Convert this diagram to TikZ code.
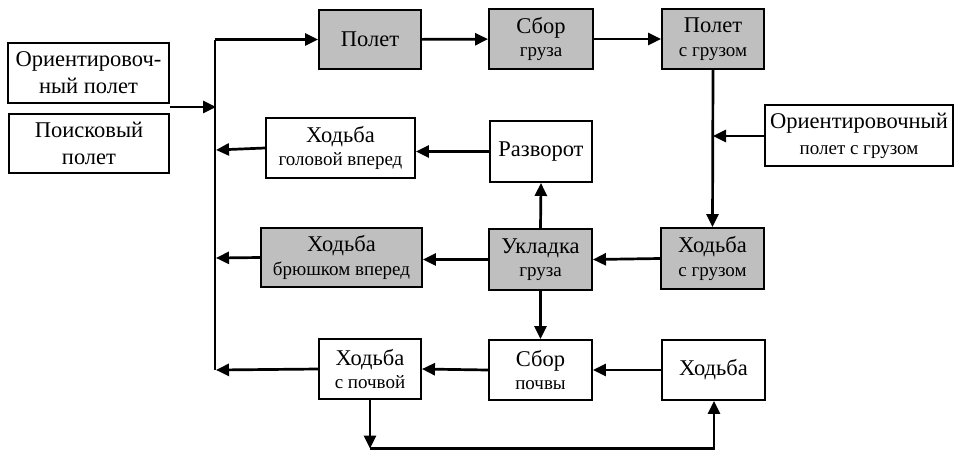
\documentclass[tikz,border=0pt]{standalone}
\usepackage{fontspec}
\setmainfont{Liberation Serif}
\usetikzlibrary{arrows.meta}
\newcommand\sm{\fontsize{19}{21}\selectfont}
\begin{document}
\begin{tikzpicture}[x=1pt,y=-1pt,
  box/.style={draw,line width=1.9pt,align=center,inner sep=0pt,font=\fontsize{22.5}{23.5}\selectfont},
  grey/.style={box,fill=black!25},
  conn/.style={line width=2.7pt,-{Triangle[length=13pt,width=12pt]}},
  plain/.style={line width=2.7pt}]
\useasboundingbox (0,0) rectangle (958,451);
% boxes
\node[box,minimum width=161,minimum height=60,font=\fontsize{22.5}{27}\selectfont] (orient) at (88.5,73) {Ориентировоч-\\ный полет};
\node[box,minimum width=160,minimum height=59,font=\fontsize{22.5}{27}\selectfont] (poisk) at (89,143.5) {Поисковый\\полет};
\node[grey,minimum width=102,minimum height=59] (polet) at (370,39.5) {Полет};
\node[grey,minimum width=104,minimum height=60] (sbor) at (541,39) {Сбор\\{\sm груза}};
\node[grey,minimum width=102,minimum height=60] (poletg) at (713,39) {Полет\\{\sm с грузом}};
\node[box,minimum width=188,minimum height=61,font=\fontsize{22.5}{26}\selectfont] (orientg) at (859,135.5) {Ориентировочный\\{\sm полет с грузом}};
\node[box,minimum width=149,minimum height=60] (hodgol) at (340.5,148) {Ходьба\\{\sm головой вперед}};
\node[box,minimum width=102,minimum height=61] (razv) at (541,151.5) {Разворот};
\node[grey,minimum width=161,minimum height=59] (hodbr) at (341.5,257.5) {Ходьба\\{\sm брюшком вперед}};
\node[grey,minimum width=103,minimum height=61] (ukl) at (540.5,259.5) {Укладка\\{\sm груза}};
\node[grey,minimum width=103,minimum height=61] (hodg) at (712.5,258.5) {Ходьба\\{\sm с грузом}};
\node[box,minimum width=102,minimum height=60] (hodp) at (370,369) {Ходьба\\{\sm с почвой}};
\node[box,minimum width=103,minimum height=60] (sborp) at (540.5,370) {Сбор\\{\sm почвы}};
\node[box,minimum width=103,minimum height=60] (hod) at (713.5,370) {Ходьба};
% coordinates
\coordinate (bustop) at (215,39.5);
\coordinate (busbot) at (215,370);
\coordinate (inL) at (170,107);
\coordinate (busL) at (216,107);
\coordinate (busA) at (216,150);
\coordinate (busB) at (216,258);
\coordinate (busC) at (216,370);
\coordinate (rv) at (713,136);
\coordinate (botL) at (370,448.5);
\coordinate (botR) at (714,448.5);
% connectors
\draw[plain] (busbot) -- (bustop);
\draw[conn] (bustop) -- (polet.west);
\draw[conn] (inL) -- (busL);
\draw[conn] (polet) -- (sbor);
\draw[conn] (sbor) -- (poletg);
\draw[conn] (poletg.south) -- (hodg.north);
\draw[conn] (orientg.west |- rv) -- (rv);
\draw[conn] (hodg.west) -- (ukl.east);
\draw[conn] (ukl.west) -- (ukl.west -| hodbr.east);
\draw[conn] (hodbr.west) -- (busB);
\draw[conn] (ukl.north) -- (razv.south);
\draw[conn] (razv.west) -- (razv.west -| hodgol.east);
\draw[conn] (hodgol.west) -- (busA);
\draw[conn] (ukl.south) -- (sborp.north);
\draw[conn] (hod.west) -- (sborp.east);
\draw[conn] (sborp.west) -- (hodp.east);
\draw[conn] (hodp.west) -- (busC);
\draw[conn] (hodp.south) -- (botL);
\draw[conn] (botL) -- (botR) -- (botR |- hod.south);
\end{tikzpicture}
\end{document}
